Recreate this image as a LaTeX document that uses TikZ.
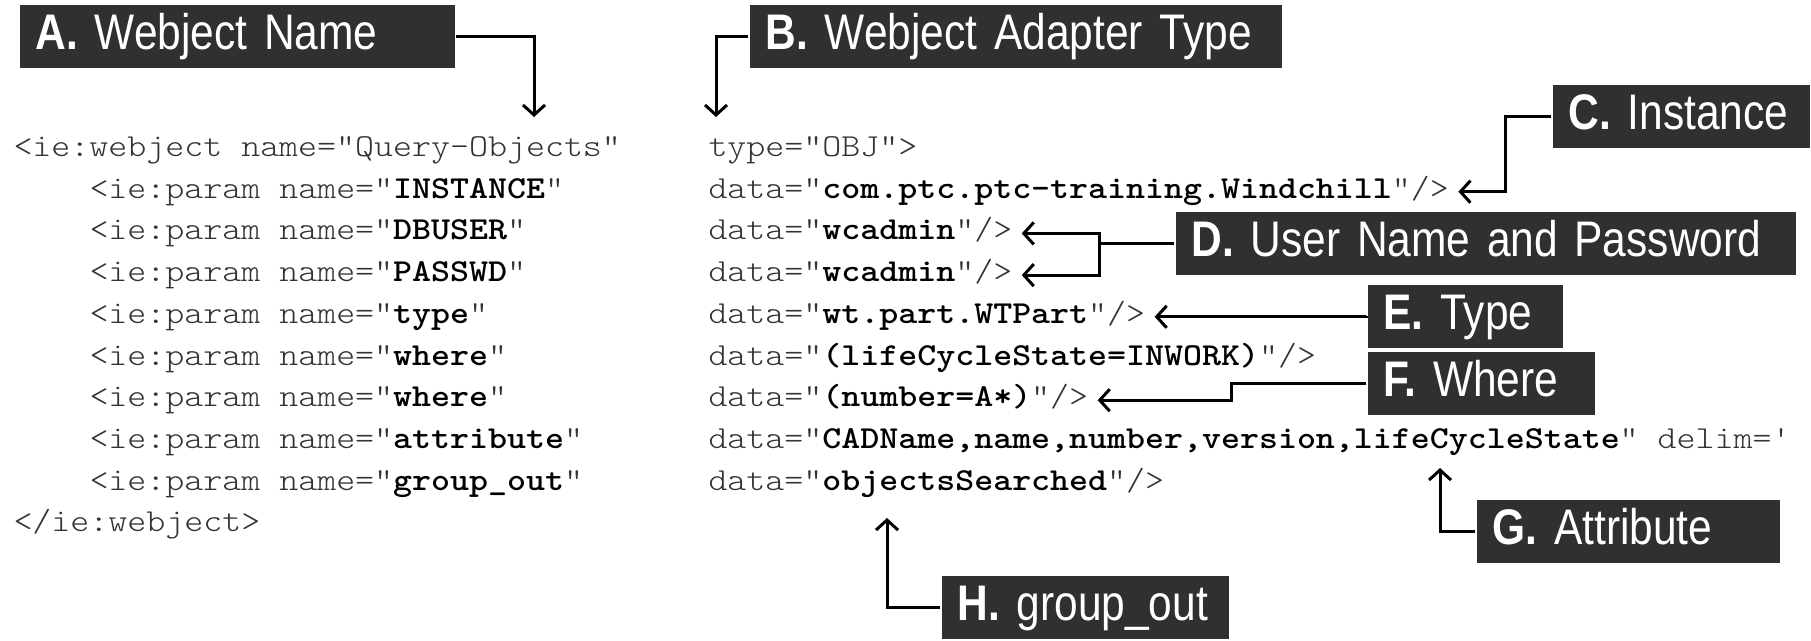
\documentclass[tikz,border=0pt]{standalone}
\usepackage{fontspec}
\newfontfamily\codefont[FakeStretch=1.13]{Latin Modern Mono Light}
\newfontfamily\tagfont[FakeStretch=0.85]{Liberation Sans}
\usetikzlibrary{arrows.meta}
\definecolor{tagfill}{HTML}{303030}
\definecolor{codeink}{HTML}{333333}
\newcommand{\val}[1]{\textcolor{black}{\textbf{#1}}}

\begin{document}
\begin{tikzpicture}[x=1pt,y=-1pt,>={Straight Barb[length=10pt,width=22pt]},
                    line width=3pt,line join=miter]
  \tikzstyle{code}=[font=\codefont\fontsize{32}{36}\selectfont,text=codeink,
                    anchor=west,inner sep=0pt,text height=18pt,text depth=5pt]
  \tikzstyle{tag}=[fill=tagfill,text=white,font=\tagfont\fontsize{50}{56}\selectfont,
                   anchor=west,align=left,inner xsep=16pt,inner ysep=8.5pt,
                   text height=36pt,text depth=10pt]

  \useasboundingbox (0,0) rectangle (1811,640);

  \node[code] (l1)  at (12,150)    {<ie:webject name="Query-Objects"};
  \node[code] (r1)  at (707,150)   {type="OBJ">};
  \node[code] (l2)  at (88,191.7)  {<ie:param name="\val{INSTANCE}"};
  \node[code] (r2)  at (707,191.7) {data="\val{com.ptc.ptc-training.Windchill}"/>};
  \node[code] (l3)  at (88,233.4)  {<ie:param name="\val{DBUSER}"};
  \node[code] (r3)  at (707,233.4) {data="\val{wcadmin}"/>};
  \node[code] (l4)  at (88,275.1)  {<ie:param name="\val{PASSWD}"};
  \node[code] (r4)  at (707,275.1) {data="\val{wcadmin}"/>};
  \node[code] (l5)  at (88,316.8)  {<ie:param name="\val{type}"};
  \node[code] (r5)  at (707,316.8) {data="\val{wt.part.WTPart}"/>};
  \node[code] (l6)  at (88,358.5)  {<ie:param name="\val{where}"};
  \node[code] (r6)  at (707,358.5) {data="\val{(lifeCycleState=INWORK)}"/>};
  \node[code] (l7)  at (88,400.2)  {<ie:param name="\val{where}"};
  \node[code] (r7)  at (707,400.2) {data="\val{(number=A*)}"/>};
  \node[code] (l8)  at (88,441.9)  {<ie:param name="\val{attribute}"};
  \node[code] (r8)  at (707,441.9) {data="\val{CADName,name,number,version,lifeCycleState}" delim=\textquotesingle};
  \node[code] (l9)  at (88,483.6)  {<ie:param name="\val{group\_out}"};
  \node[code] (r9)  at (707,483.6) {data="\val{objectsSearched}"/>};
  \node[code] (l10) at (12,525.3)  {</ie:webject>};

  \node[tag,text width=403pt] (tagA) at (18,36)    {\textbf{A.} Webject Name};
  \node[tag,text width=500pt] (tagB) at (748,36)   {\textbf{B.} Webject Adapter Type};
  \node[tag,text width=225pt] (tagC) at (1551,116) {\textbf{C.} Instance};
  \node[tag,text width=588pt] (tagD) at (1174,243) {\textbf{D.} User Name and Password};
  \node[tag,text width=163pt] (tagE) at (1366,316) {\textbf{E.} Type};
  \node[tag,text width=195pt] (tagF) at (1366,383) {\textbf{F.} Where};
  \node[tag,text width=271pt] (tagG) at (1475,531) {\textbf{G.} Attribute};
  \node[tag,text width=255pt] (tagH) at (940,607)  {\textbf{H.} group\_out};

  \coordinate (aimA) at (534,117);
  \coordinate (aimB) at (716,117);
  \coordinate (jD)   at (1099,243);
  \coordinate (aimG) at (1440,468);
  \coordinate (aimH) at (887,518);

  \draw[->] (tagA.east) -| (aimA);
  \draw[->] (tagB.west) -| (aimB);
  \draw[->] (tagC.west) -- ++(-46,0) |- ([xshift=8pt]r2.east);
  \draw (tagD.west) -- (jD);
  \draw[<->] ([xshift=8pt]r3.east) -| (jD) |- ([xshift=8pt]r4.east);
  \draw[->] (tagE.west) |- ([xshift=8pt]r5.east);
  \draw[->] (tagF.west) -- ++(-135,0) |- ([xshift=8pt]r7.east);
  \draw[->] (tagG.west) -| (aimG);
  \draw[->] (tagH.west) -| (aimH);
\end{tikzpicture}
\end{document}
